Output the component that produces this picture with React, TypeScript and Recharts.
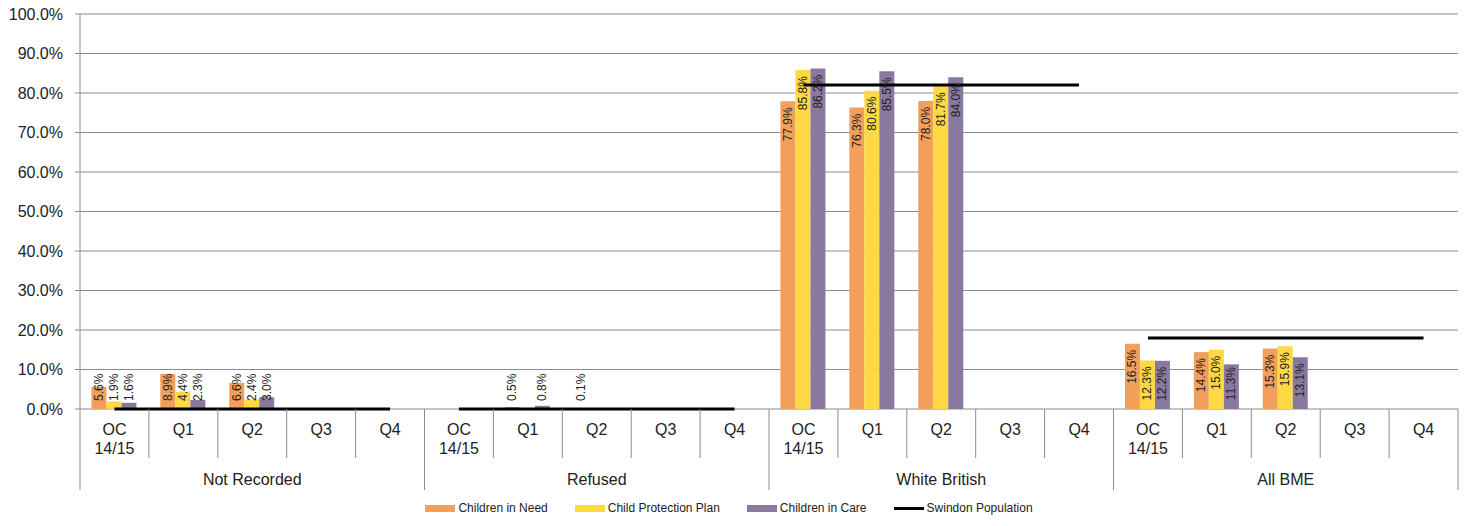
import React from 'react';
import {
  ComposedChart, Bar, Line, XAxis, YAxis, CartesianGrid, Legend, LabelList,
} from 'recharts';

const groups = ['Not Recorded', 'Refused', 'White British', 'All BME'];
const quarters = ['OC 14/15', 'Q1', 'Q2', 'Q3', 'Q4'];
const seriesNames = ['Children in Need', 'Child Protection Plan', 'Children in Care', 'Swindon Population'];

// one value per quarter, group after group (null = no data)
const childrenInNeed = [
  5.6, 8.9, 6.6, null, null,
  null, 0.5, 0.1, null, null,
  77.9, 76.3, 78.0, null, null,
  16.5, 14.4, 15.3, null, null,
];
const childProtectionPlan = [
  1.9, 4.4, 2.4, null, null,
  null, null, null, null, null,
  85.8, 80.6, 81.7, null, null,
  12.3, 15.0, 15.9, null, null,
];
const childrenInCare = [
  1.6, 2.3, 3.0, null, null,
  null, 0.8, null, null, null,
  86.2, 85.5, 84.0, null, null,
  12.2, 11.3, 13.1, null, null,
];
// Swindon population share, one per group
const swindonPopulation = [0, 0, 82.0, 18.0];

const yTicks = [0, 10, 20, 30, 40, 50, 60, 70, 80, 90, 100];

const data = groups.flatMap((group, g) =>
  quarters.map((quarter, q) => {
    const i = g * 5 + q;
    return {
      id: `${group}-${quarter}`,
      group,
      quarter,
      cin: childrenInNeed[i],
      cpp: childProtectionPlan[i],
      cic: childrenInCare[i],
      pop: g % 2 === 0 ? swindonPopulation[g] : null,
      popAlt: g % 2 === 1 ? swindonPopulation[g] : null,
    };
  })
);

const FONT = '"Liberation Sans", Arial, sans-serif';
const AXIS = '#8c8c8c';

const charW = (c: string) => (c === '.' ? 3.34 : c === '%' ? 10.67 : 6.67);

const BarValueLabel = (props: any) => {
  const vb = props.viewBox || {};
  const x = props.x ?? vb.x;
  const y = props.y ?? vb.y;
  const width = props.width ?? vb.width;
  const height = props.height ?? vb.height;
  const { value } = props;
  if (value == null || x == null) return null;
  const text = `${Number(value).toFixed(1)}%`;
  const len = text.split('').reduce((s, c) => s + charW(c), 0);
  const base = y + height;
  const top = Math.min(y + 6, base - 8 - len);
  const cx = x + width / 2;
  return (
    <text
      x={cx}
      y={top}
      transform={`rotate(-90 ${cx} ${top})`}
      textAnchor="end"
      dominantBaseline="central"
      fontSize={12}
      fill="#222"
      fontFamily={FONT}
    >
      {text}
    </text>
  );
};

const CategoryTick = (props: any) => {
  const { x, y, index, payload } = props;
  const half = payload?.offset ?? 34.45;
  const row = data[index];
  const lines = row.quarter.split(' ');
  const isGroupStart = index % 5 === 0;
  const isLast = index === data.length - 1;
  return (
    <g>
      <line
        x1={x - half} x2={x - half} y1={y} y2={y + (isGroupStart ? 81 : 49)}
        stroke={AXIS} strokeWidth={1}
      />
      {isLast && (
        <line x1={x + half} x2={x + half} y1={y} y2={y + 81} stroke={AXIS} strokeWidth={1} />
      )}
      <text x={x} y={y + 26} textAnchor="middle" fontSize={16} fill="#222" fontFamily={FONT}>
        {lines.map((l: string, k: number) => (
          <tspan key={k} x={x} dy={k === 0 ? 0 : 19}>{l}</tspan>
        ))}
      </text>
      {index % 5 === 2 && (
        <text x={x} y={y + 76} textAnchor="middle" fontSize={16} fill="#222" fontFamily={FONT}>
          {row.group}
        </text>
      )}
    </g>
  );
};

const LegendContent = (props: any) => {
  const items = (props.payload || [])
    .filter((p: any) => p.type !== 'none' && seriesNames.includes(p.value))
    .sort((a: any, b: any) => seriesNames.indexOf(a.value) - seriesNames.indexOf(b.value));
  return (
    <div
      style={{
        height: 36, display: 'flex', justifyContent: 'center', alignItems: 'center',
        gap: 27, fontFamily: FONT, fontSize: 12, color: '#222',
      }}
    >
      {items.map((it: any) => (
        <div key={it.value} style={{ display: 'flex', alignItems: 'center', gap: 3 }}>
          {it.type === 'line' ? (
            <span style={{ display: 'inline-block', width: 30, height: 3, background: '#000' }} />
          ) : (
            <span style={{ display: 'inline-block', width: 30, height: 7, background: it.color }} />
          )}
          <span>{it.value}</span>
        </div>
      ))}
    </div>
  );
};

export default function App() {
  return (
    <div style={{ position: 'absolute', left: 0, top: 0 }}>
      <ComposedChart
        width={1470}
        height={526}
        data={data}
        margin={{ top: 14, right: 12, bottom: 0, left: 0 }}
        barCategoryGap="16.6%"
        barGap={0}
        style={{ fontFamily: FONT }}
      >
        <CartesianGrid vertical={false} stroke={AXIS} strokeWidth={1} />
        <XAxis
          dataKey="id"
          interval={0}
          height={81}
          tickLine={false}
          tickSize={0}
          tickMargin={0}
          axisLine={false}
          tick={<CategoryTick />}
        />
        <YAxis
          domain={[0, 100]}
          ticks={yTicks}
          width={80}
          tickSize={5}
          tickMargin={12}
          tickLine={{ stroke: AXIS }}
          axisLine={{ stroke: AXIS }}
          tickFormatter={(v: number) => `${v.toFixed(1)}%`}
          tick={{ fontSize: 16, fill: '#222' }}
        />
        <Legend verticalAlign="bottom" content={<LegendContent />} />
        <Bar dataKey="cin" name={seriesNames[0]} fill="#F29F5C" isAnimationActive={false}>
          <LabelList dataKey="cin" content={<BarValueLabel />} />
        </Bar>
        <Bar dataKey="cpp" name={seriesNames[1]} fill="#FFD944" isAnimationActive={false}>
          <LabelList dataKey="cpp" content={<BarValueLabel />} />
        </Bar>
        <Bar dataKey="cic" name={seriesNames[2]} fill="#8A799F" isAnimationActive={false}>
          <LabelList dataKey="cic" content={<BarValueLabel />} />
        </Bar>
        <Line
          dataKey="pop"
          name={seriesNames[3]}
          stroke="#000"
          strokeWidth={3}
          dot={false}
          activeDot={false}
          connectNulls={false}
          legendType="line"
          isAnimationActive={false}
        />
        <Line
          dataKey="popAlt"
          name="Swindon Population (alt)"
          stroke="#000"
          strokeWidth={3}
          dot={false}
          activeDot={false}
          connectNulls={false}
          legendType="none"
          isAnimationActive={false}
        />
      </ComposedChart>
    </div>
  );
}
